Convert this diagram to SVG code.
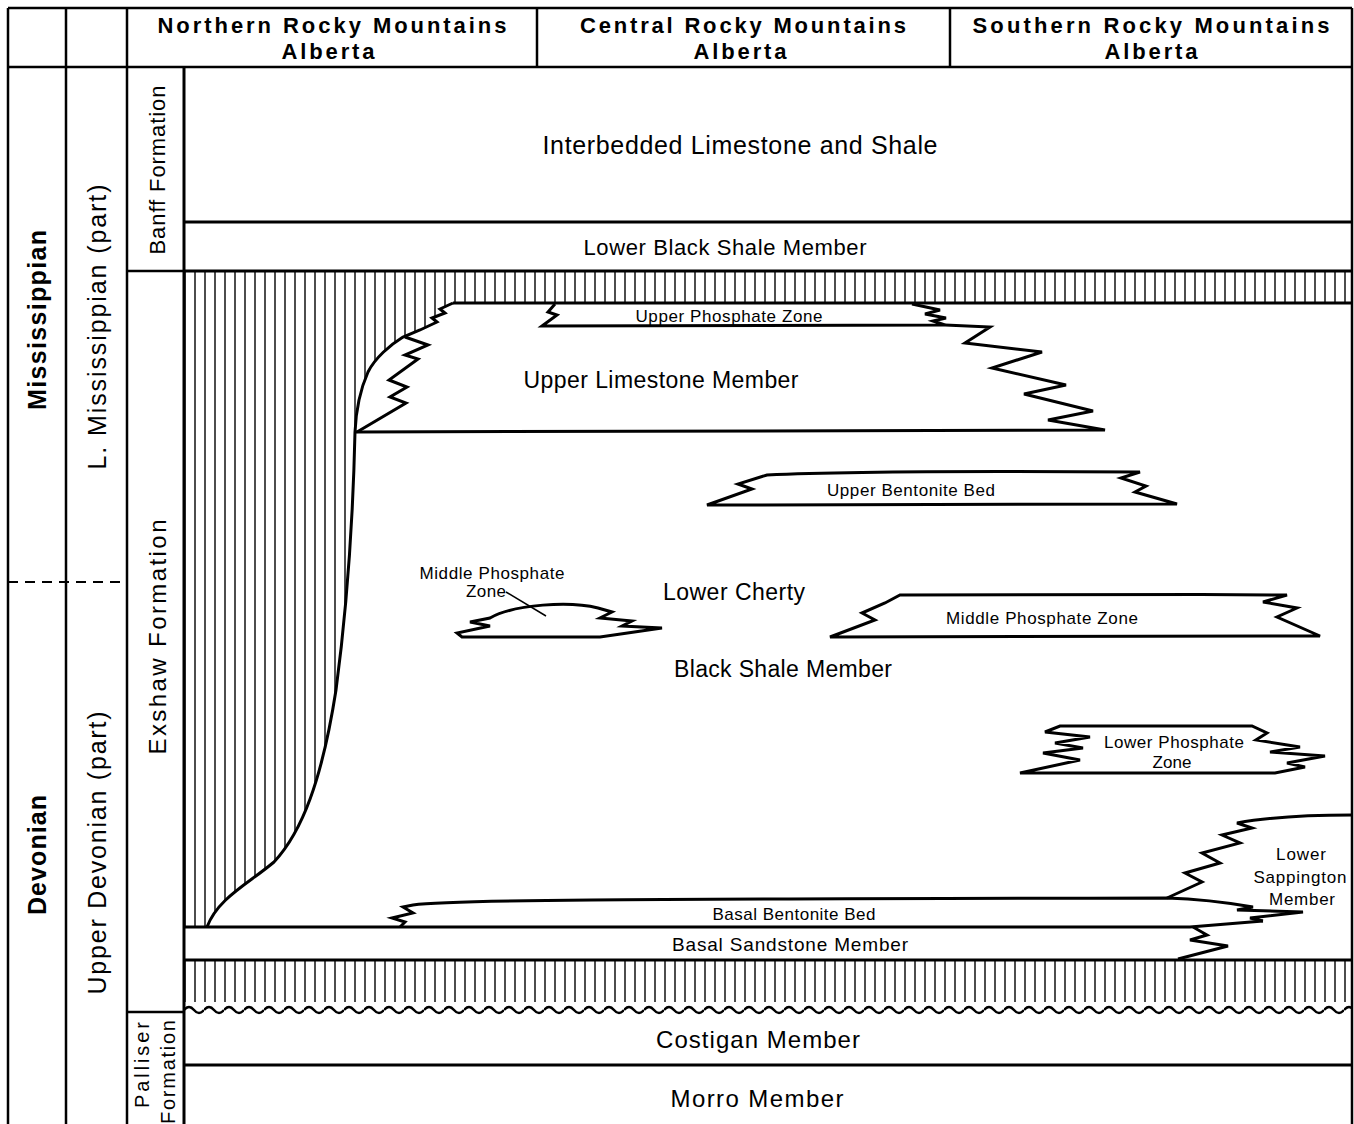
<svg xmlns="http://www.w3.org/2000/svg" width="1354" height="1124" viewBox="0 0 1354 1124">
<style>
.ln{stroke:#000;stroke-width:3;fill:none;stroke-linejoin:miter}
.fr{stroke:#000;stroke-width:2.5;fill:none}
.lens{stroke:#000;stroke-width:3;fill:#fff;stroke-linejoin:miter}
.t{font-family:"Liberation Sans",Arial,Helvetica,sans-serif;fill:#000;text-anchor:middle}
.b{font-weight:bold}
</style>
<defs>
<pattern id="vh" x="0" y="0" width="10" height="10" patternUnits="userSpaceOnUse">
<line x1="5" y1="0" x2="5" y2="10" stroke="#000" stroke-width="1.4"/>
</pattern>
<pattern id="wave" x="184" y="1002" width="20" height="14" patternUnits="userSpaceOnUse">
<path d="M0,8 Q5,2 10,8 T20,8" fill="none" stroke="#000" stroke-width="2.5"/>
</pattern>
</defs>
<rect width="1354" height="1124" fill="#fff"/>

<g id="hatch">
<path d="M184,271 H1352 V303 H453 L440,309 L445,313 L432,318 L437,322 L420,330 L403,337 C390,345 375,358 368,372 C360,390 356,410 355,432 C353,520 348,600 336,690 C322,780 302,832 274,862 C248,884 218,898 207,927 H184 Z" fill="url(#vh)"/>
<rect x="184" y="960" width="1168" height="50" fill="url(#vh)"/>
<rect x="184" y="1002" width="1168" height="14" fill="#fff"/>
<rect x="184" y="1002" width="1168" height="14" fill="url(#wave)"/>
</g>

<g id="frame">
<line class="fr" x1="8" y1="8" x2="1352" y2="8"/>
<line class="fr" x1="8" y1="67" x2="1352" y2="67"/>
<line class="fr" x1="8" y1="8" x2="8" y2="1124"/>
<line class="fr" x1="66" y1="8" x2="66" y2="1124"/>
<line class="fr" x1="127" y1="8" x2="127" y2="1124"/>
<line class="fr" x1="537" y1="8" x2="537" y2="67"/>
<line class="fr" x1="950" y1="8" x2="950" y2="67"/>
<line class="fr" x1="1352" y1="8" x2="1352" y2="1124"/>
<line class="ln" x1="184" y1="67" x2="184" y2="1124"/>
<line class="fr" x1="127" y1="271" x2="184" y2="271"/>
<line class="fr" x1="127" y1="1012" x2="184" y2="1012"/>
<line x1="8" y1="582" x2="127" y2="582" stroke="#000" stroke-width="2" stroke-dasharray="10,7"/>
</g>

<g id="boundaries">
<line class="ln" x1="184" y1="222" x2="1352" y2="222"/>
<line class="ln" x1="184" y1="271" x2="1352" y2="271"/>
<line class="ln" x1="453" y1="303" x2="1352" y2="303"/>
<path class="ln" d="M453,303 L440,309 L445,313 L432,318 L437,322 L420,330 L403,337 C390,345 375,358 368,372 C360,390 356,410 355,432 C353,520 348,600 336,690 C322,780 302,832 274,862 C248,884 218,898 207,927"/>
<path class="ln" d="M184,927 H1190 L1263,921"/>
<line class="ln" x1="184" y1="960" x2="1352" y2="960"/>
<line class="ln" x1="184" y1="1065" x2="1352" y2="1065"/>
</g>

<g id="upper-limestone">
<path class="ln" d="M355,432 L1105,430 L1048,420 L1093,411 L1024,394 L1066,385 L992,368 L1042,352 L965,343 L990,327 L945,325"/>
<path class="ln" d="M357,432 L406,403 L390,397 L407,387 L389,380 L418,359 L405,355 L428,345 L405,337"/>
</g>

<g id="upper-phosphate">
<path class="ln" d="M555,304 L548,312 L557,315 L542,326 L945,325 L933,321 L946,318 L925,314 L940,310 L912,304"/>
</g>

<g id="upper-bentonite">
<path class="lens" d="M767,475 C850,471 1000,471 1140,472 L1121,478 L1146,486 L1135,492 L1177,504 L707,505 L752,489 L738,484 Z"/>
</g>

<g id="middle-phosphate-left">
<path class="lens" d="M490,618 C515,604 570,601 598,608 L612,612 L600,618 L632,621 L622,626 L662,628 L600,637 L462,637 L457,633 L490,626 L470,622 Z"/>
<line x1="506" y1="592" x2="546" y2="616" stroke="#000" stroke-width="1.5"/>
</g>

<g id="middle-phosphate-right">
<path class="lens" d="M900,595 C1000,594 1150,594 1287,595 L1263,602 L1297,608 L1277,617 L1320,636 L830,637 L875,620 L862,613 L885,603 Z"/>
</g>

<g id="lower-phosphate">
<path class="lens" d="M1060,726 L1252,726 L1267,733 L1256,740 L1300,747 L1270,752 L1325,756 L1287,763 L1305,767 L1275,773 L1020,773 L1080,760 L1043,753 L1083,748 L1055,743 L1090,737 L1045,732 Z"/>
</g>

<g id="basal-bentonite">
<path class="ln" d="M400,927 L405,922 L392,918 L413,913 L403,907 L413,905 C450,900 600,899 1167,898 C1200,899 1230,903 1253,907 L1237,910 L1303,912 L1250,918 L1263,921"/>
</g>

<g id="basal-sandstone">
<path class="ln" d="M1193,927 L1207,935 L1190,940 L1228,946 L1178,959"/>
</g>

<g id="lower-sappington">
<path class="ln" d="M1352,815 C1310,815 1270,817 1237,823 L1252,828 L1222,835 L1240,843 L1202,853 L1220,863 L1185,873 L1202,882 L1167,898"/>
</g>

<g id="labels">
<text class="t b" x="332" y="33" font-size="22" textLength="349" lengthAdjust="spacing">Northern Rocky Mountains</text>
<text class="t b" x="328" y="59" font-size="22" textLength="93" lengthAdjust="spacing">Alberta</text>
<text class="t b" x="743" y="33" font-size="22" textLength="326" lengthAdjust="spacing">Central Rocky Mountains</text>
<text class="t b" x="740" y="59" font-size="22" textLength="93" lengthAdjust="spacing">Alberta</text>
<text class="t b" x="1151" y="33" font-size="22" textLength="357" lengthAdjust="spacing">Southern Rocky Mountains</text>
<text class="t b" x="1151" y="59" font-size="22" textLength="93" lengthAdjust="spacing">Alberta</text>

<text class="t" x="740" y="154" font-size="25" textLength="395" lengthAdjust="spacing">Interbedded Limestone and Shale</text>
<text class="t" x="725" y="255" font-size="22" textLength="283" lengthAdjust="spacing">Lower Black Shale Member</text>
<text class="t" x="729" y="322" font-size="17" textLength="187" lengthAdjust="spacing">Upper Phosphate Zone</text>
<text class="t" x="661" y="388" font-size="23" textLength="275" lengthAdjust="spacing">Upper Limestone Member</text>
<text class="t" x="911" y="496" font-size="17" textLength="168" lengthAdjust="spacing">Upper Bentonite Bed</text>
<text class="t" x="492" y="579" font-size="17" textLength="145" lengthAdjust="spacing">Middle Phosphate</text>
<text class="t" x="486" y="597" font-size="17" textLength="40" lengthAdjust="spacing">Zone</text>
<text class="t" x="734" y="600" font-size="23" textLength="142" lengthAdjust="spacing">Lower Cherty</text>
<text class="t" x="783" y="677" font-size="23" textLength="218" lengthAdjust="spacing">Black Shale Member</text>
<text class="t" x="1042" y="624" font-size="17" textLength="192" lengthAdjust="spacing">Middle Phosphate Zone</text>
<text class="t" x="1174" y="748" font-size="17" textLength="140" lengthAdjust="spacing">Lower Phosphate</text>
<text class="t" x="1172" y="768" font-size="17" textLength="39" lengthAdjust="spacing">Zone</text>
<text class="t" x="1301" y="860" font-size="17" textLength="50" lengthAdjust="spacing">Lower</text>
<text class="t" x="1300" y="883" font-size="17" textLength="93" lengthAdjust="spacing">Sappington</text>
<text class="t" x="1302" y="905" font-size="17" textLength="66" lengthAdjust="spacing">Member</text>
<text class="t" x="794" y="920" font-size="17" textLength="163" lengthAdjust="spacing">Basal Bentonite Bed</text>
<text class="t" x="790" y="951" font-size="19" textLength="236" lengthAdjust="spacing">Basal Sandstone Member</text>
<text class="t" x="758" y="1048" font-size="24" textLength="204" lengthAdjust="spacing">Costigan Member</text>
<text class="t" x="757" y="1107" font-size="24" textLength="173" lengthAdjust="spacing">Morro Member</text>

<text class="t b" transform="translate(46,320) rotate(-90)" font-size="25" textLength="180" lengthAdjust="spacing">Mississippian</text>
<text class="t b" transform="translate(46,855) rotate(-90)" font-size="25" textLength="120" lengthAdjust="spacing">Devonian</text>
<text class="t" transform="translate(106,327) rotate(-90)" font-size="25" textLength="285" lengthAdjust="spacing">L. Mississippian (part)</text>
<text class="t" transform="translate(106,853) rotate(-90)" font-size="25" textLength="283" lengthAdjust="spacing">Upper Devonian (part)</text>
<text class="t" transform="translate(165,170) rotate(-90)" font-size="22" textLength="169" lengthAdjust="spacing">Banff Formation</text>
<text class="t" transform="translate(166,637) rotate(-90)" font-size="24" textLength="235" lengthAdjust="spacing">Exshaw Formation</text>
<text class="t" transform="translate(149,1065) rotate(-90)" font-size="20" textLength="86" lengthAdjust="spacing">Palliser</text>
<text class="t" transform="translate(175,1072) rotate(-90)" font-size="20" textLength="104" lengthAdjust="spacing">Formation</text>
</g>
</svg>
